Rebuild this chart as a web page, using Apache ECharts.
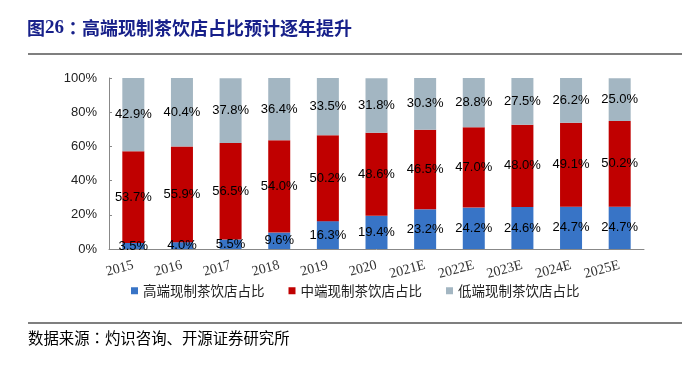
<!DOCTYPE html>
<html>
<head>
<meta charset="utf-8">
<script src="https://cdn.jsdelivr.net/npm/echarts@6/dist/echarts.min.js"></script>
<style>html,body{margin:0;padding:0;background:#fff;}#c{width:700px;height:372px;}</style>
</head>
<body>
<div id="c"></div>
<script>
var categories = ['2015','2016','2017','2018','2019','2020','2021E','2022E','2023E','2024E','2025E'];
var highEnd = [3.5, 4.0, 5.5, 9.6, 16.3, 19.4, 23.2, 24.2, 24.6, 24.7, 24.7];
var midEnd  = [53.7, 55.9, 56.5, 54.0, 50.2, 48.6, 46.5, 47.0, 48.0, 49.1, 50.2];
var lowEnd  = [42.9, 40.4, 37.8, 36.4, 33.5, 31.8, 30.3, 28.8, 27.5, 26.2, 25.0];
var seriesNames = ['高端现制茶饮店占比', '中端现制茶饮店占比', '低端现制茶饮店占比'];
var yTicks = [0, 20, 40, 60, 80, 100];

var chart = echarts.init(document.getElementById('c'), null, {renderer: 'canvas'});
var labelStyle = {
  show: true, position: 'inside', color: '#000',
  fontFamily: 'Liberation Sans, Arial, sans-serif', fontSize: 13,
  formatter: function (p) { return p.value.toFixed(1) + '%'; }
};
function mk(name, data, color) {
  return {
    name: name, type: 'bar', stack: 'total', data: data, barWidth: 22,
    itemStyle: {color: color}, label: labelStyle, emphasis: {disabled: true}
  };
}
chart.setOption({
  animation: false,
  title: {
    text: '图{n|26}{c|：}高端现制茶饮店占比预计逐年提升',
    left: 27, top: 19, padding: 0,
    textStyle: {
      fontFamily: 'Noto Sans CJK SC', fontSize: 18, fontWeight: 'bold', color: '#17208a',
      rich: {
        n: {fontFamily: 'Liberation Serif', fontSize: 19, fontWeight: 'bold', color: '#17208a'},
        c: {fontFamily: 'Noto Sans CJK TC', fontSize: 18, fontWeight: 'bold', color: '#17208a'}
      }
    }
  },
  graphic: [
    {type: 'line', shape: {x1: 28, y1: 54, x2: 682, y2: 54}, style: {stroke: '#7f7f7f', lineWidth: 2}},
    {type: 'line', shape: {x1: 28, y1: 323, x2: 682, y2: 323}, style: {stroke: '#7f7f7f', lineWidth: 2}},
    {type: 'text', left: 28, top: 330, style: {
      text: '数据来源{c|：}灼识咨询、开源证券研究所', fontFamily: 'Noto Sans CJK SC', fontSize: 15.4, fill: '#000',
      rich: {c: {fontFamily: 'Noto Sans CJK TC', fontSize: 15.4, fill: '#000'}}
    }}
  ],
  legend: {
    data: seriesNames, left: 131, top: 284, padding: 0, itemWidth: 7, itemHeight: 7, itemGap: 24,
    icon: 'rect',
    textStyle: {fontFamily: 'Noto Sans CJK SC', fontSize: 13.5, color: '#222'}
  },
  grid: {left: 109, right: 56, top: 78, bottom: 123},
  xAxis: {
    type: 'category', data: categories,
    axisLine: {lineStyle: {color: '#888'}},
    axisTick: {inside: true, length: 3, lineStyle: {color: '#888'}},
    axisLabel: {rotate: 15, margin: 16, fontFamily: 'Liberation Serif, Times New Roman, serif', fontSize: 14, color: '#333', interval: 0}
  },
  yAxis: {
    type: 'value', min: 0, max: 100, interval: 20,
    axisLine: {show: true, lineStyle: {color: '#888'}},
    axisTick: {show: true, inside: true, length: 3, lineStyle: {color: '#888'}},
    splitLine: {show: false},
    axisLabel: {
      margin: 12, fontFamily: 'Liberation Sans, Arial, sans-serif', fontSize: 13, color: '#222',
      formatter: function (v) { return yTicks.indexOf(v) >= 0 ? v + '%' : ''; }
    }
  },
  series: [
    mk(seriesNames[0], highEnd, '#3874c6'),
    mk(seriesNames[1], midEnd, '#c00000'),
    mk(seriesNames[2], lowEnd, '#a3b6c2')
  ]
});
</script>
</body>
</html>
